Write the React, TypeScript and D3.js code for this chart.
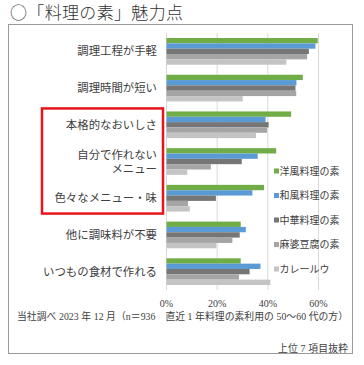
import React from "react";
import * as d3 from "d3";

const categories = [
  "調理工程が手軽",
  "調理時間が短い",
  "本格的なおいしさ",
  "自分で作れない\nメニュー",
  "色々なメニュー・味",
  "他に調味料が不要",
  "いつもの食材で作れる",
];
const seriesNames = ["洋風料理の素", "和風料理の素", "中華料理の素", "麻婆豆腐の素", "カレールウ"];
const youfuu = [59.7, 53.8, 49.2, 43.3, 38.5, 29.3, 29.3];
const wafuu = [58.8, 51.3, 39.1, 36.0, 33.9, 31.3, 37.1];
const chuuka = [56.2, 50.9, 40.3, 29.7, 19.5, 28.9, 32.8];
const mabo = [55.5, 51.2, 39.7, 17.5, 8.5, 26.0, 28.6];
const curry = [47.3, 30.1, 35.3, 8.2, 9.2, 19.7, 41.0];
const seriesValues = [youfuu, wafuu, chuuka, mabo, curry];
const colors = ["#70AD47", "#5B9BD5", "#767676", "#A5A5A5", "#C4C4C4"];
const tickValues = [0, 20, 40, 60];
const title = "○「料理の素」魅力点";
const footnote = "当社調べ 2023 年 12 月（n＝936　直近 1 年料理の素利用の 50～60 代の方）";
const footnote2 = "上位 7 項目抜粋";

const FONT = "'Liberation Serif', 'Noto Sans CJK JP', serif";
const TITLE_FONT = "'Noto Sans CJK JP', sans-serif";

export default function App() {
  const x = d3.scaleLinear().domain([0, 60]).range([166.5, 318.5]);
  const y = d3
    .scaleBand<string>()
    .domain(categories)
    .range([33, 290])
    .paddingInner(0.273)
    .paddingOuter(0.1365);
  const ys = d3
    .scaleBand<string>()
    .domain(seriesNames)
    .range([0, y.bandwidth()])
    .padding(0);

  const redTop = (y(categories[2]) as number) - 3;
  const redBottom = (y(categories[4]) as number) + y.bandwidth() + 2;

  return (
    <svg
      width={364}
      height={365}
      style={{ position: "absolute", left: 0, top: 0, background: "#fff" }}
    >
      <rect x={0} y={0} width={364} height={365} fill="#fff" />
      <text
        x={10}
        y={18.5}
        fontFamily={TITLE_FONT}
        fontSize={17}
        fontWeight={300}
        fill="#333"
        textLength={173}
        lengthAdjust="spacing"
      >
        {title}
      </text>
      <rect x={8.5} y={24.5} width={344} height={329} fill="#fff" stroke="#9A9A9A" strokeWidth={1} />

      {tickValues.map((t) => (
        <line key={t} x1={x(t)} x2={x(t)} y1={33} y2={290} stroke="#D9D9D9" strokeWidth={1} />
      ))}

      {seriesValues.map((vals, si) =>
        vals.map((v, ci) => (
          <rect
            key={`${si}-${ci}`}
            x={x(0)}
            y={(y(categories[ci]) as number) + (ys(seriesNames[si]) as number)}
            width={x(v) - x(0)}
            height={ys.bandwidth()}
            fill={colors[si]}
          />
        ))
      )}

      {categories.map((c) => {
        const lines = c.split("\n");
        const cy = (y(c) as number) + y.bandwidth() / 2;
        const lh = 14;
        return (
          <text
            key={c}
            x={157}
            textAnchor="end"
            fontFamily={FONT}
            fontSize={11.4}
            fill="#404040"
          >
            {lines.map((l, i) => (
              <tspan key={i} x={157} y={cy + (i - (lines.length - 1) / 2) * lh + 4}>
                {l}
              </tspan>
            ))}
          </text>
        );
      })}

      {tickValues.map((t) => (
        <text
          key={t}
          x={x(t)}
          y={307}
          textAnchor="middle"
          fontFamily={FONT}
          fontSize={10}
          fill="#404040"
        >
          {t}%
        </text>
      ))}

      {seriesNames.map((s, i) => (
        <g key={s} transform={`translate(274, ${171 + i * 24.5})`}>
          <rect x={0} y={-2.5} width={5} height={5} fill={colors[i]} />
          <text x={5.5} y={3.6} fontFamily={FONT} fontSize={10} fill="#404040">
            {s}
          </text>
        </g>
      ))}

      <rect
        x={42}
        y={redTop}
        width={121}
        height={redBottom - redTop}
        fill="none"
        stroke="#E8141B"
        strokeWidth={2.5}
      />

      <text
        x={17}
        y={319.5}
        fontFamily={FONT}
        fontSize={9.8}
        fill="#404040"
        textLength={331}
        lengthAdjust="spacing"
      >
        {footnote}
      </text>
      <text
        x={278}
        y={351.5}
        fontFamily={FONT}
        fontSize={9.8}
        fill="#404040"
        textLength={70}
        lengthAdjust="spacing"
      >
        {footnote2}
      </text>
    </svg>
  );
}
